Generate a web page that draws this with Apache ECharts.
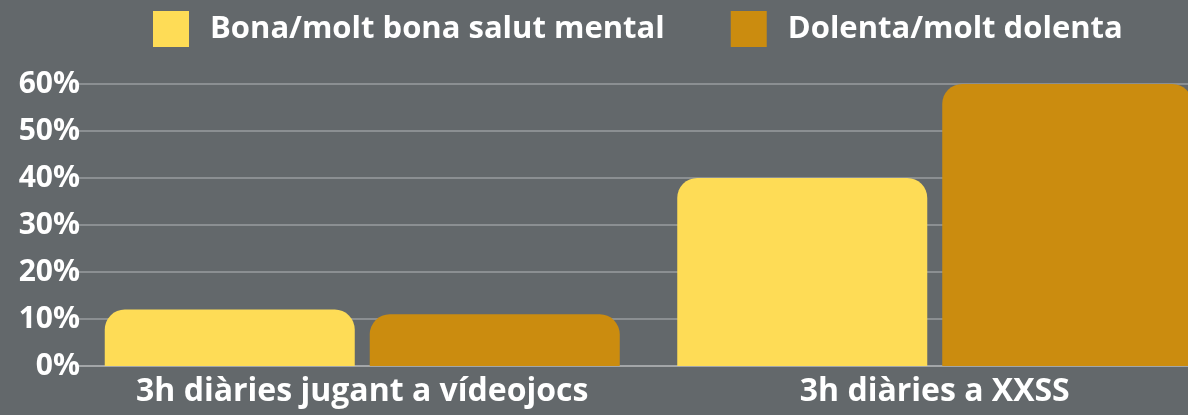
<!DOCTYPE html>
<html>
<head>
<meta charset="utf-8">
<script src="https://cdn.jsdelivr.net/npm/echarts@6/dist/echarts.min.js"></script>
<style>
  html, body { margin: 0; padding: 0; background: #63686b; overflow: hidden; }
  #main { width: 1221px; height: 415px; }
</style>
</head>
<body>
<div id="main"></div>
<script>
var categories = ['3h diàries jugant a vídeojocs', '3h diàries a XXSS'];
var seriesNames = ['Bona/molt bona salut mental', 'Dolenta/molt dolenta'];
var bonaValues = [12, 40];
var dolentaValues = [11, 60];
var colors = ['#fedc56', '#cb8c0f'];

// the last bar runs off the right edge in the reference, so the chart is wider than the window
var chart = echarts.init(document.getElementById('main'));
var option = {
    backgroundColor: '#63686b',
    textStyle: { fontFamily: 'Open Sans' },
    legend: {
        left: 148,
        top: 6,
        itemWidth: 36,
        itemHeight: 36,
        itemGap: 66,
        icon: 'rect',
        textStyle: {
            color: '#ffffff',
            fontSize: 31,
            fontWeight: 'bold',
            fontFamily: 'Open Sans',
            padding: [0, 0, 0, 16]
        },
        data: seriesNames
    },
    grid: {
        left: 76,
        top: 84,
        right: 0,
        bottom: 49,
        containLabel: false
    },
    xAxis: {
        type: 'category',
        data: categories,
        axisTick: { show: false },
        axisLine: { lineStyle: { color: '#a3a6a8', width: 2 } },
        axisLabel: {
            interval: 0,
            color: '#ffffff',
            fontSize: 32,
            fontWeight: 'bold',
            fontFamily: 'Open Sans',
            margin: 10
        }
    },
    yAxis: {
        type: 'value',
        min: 0,
        max: 60,
        interval: 10,
        axisLine: { show: false },
        axisTick: { show: false },
        splitLine: { lineStyle: { color: '#8b8f92', width: 2 } },
        axisLabel: {
            color: '#ffffff',
            fontSize: 30,
            fontWeight: 'bold',
            fontFamily: 'Open Sans',
            margin: -4,
            formatter: '{value}%'
        }
    },
    series: [
        {
            name: seriesNames[0],
            type: 'bar',
            data: bonaValues,
            barWidth: 250,
            barGap: '6%',
            itemStyle: { color: colors[0], borderRadius: [20, 20, 0, 0] }
        },
        {
            name: seriesNames[1],
            type: 'bar',
            data: dolentaValues,
            barWidth: 250,
            itemStyle: { color: colors[1], borderRadius: [20, 20, 0, 0] }
        }
    ]
};
chart.setOption(option);
</script>
</body>
</html>
